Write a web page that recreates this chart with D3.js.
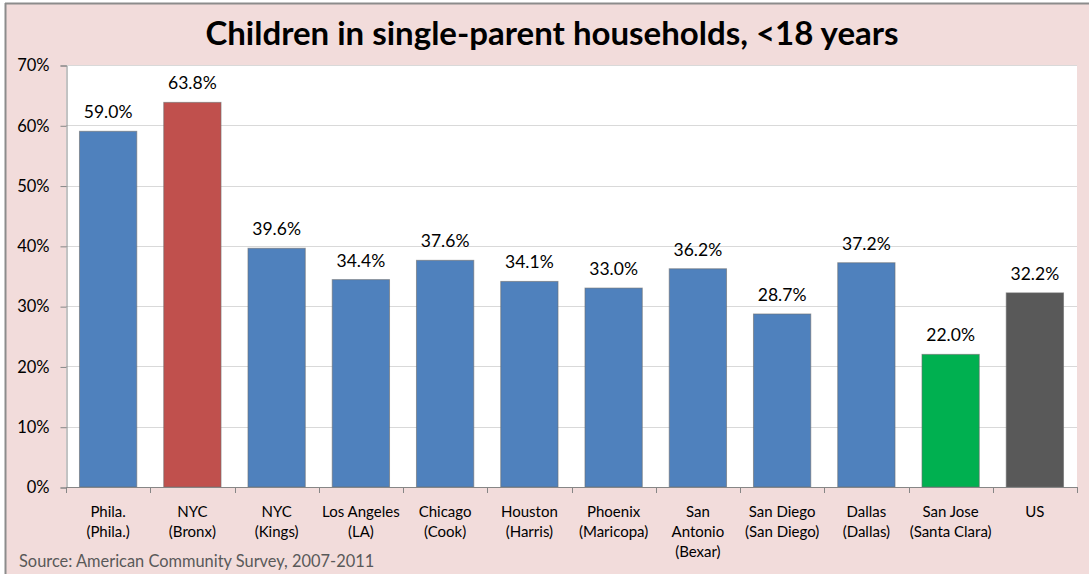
<!DOCTYPE html>
<html>
<head>
<meta charset="utf-8">
<script src="https://cdn.jsdelivr.net/npm/d3@7"></script>
<style>
  html, body { margin: 0; padding: 0; background: #ffffff; }
  svg { display: block; }
</style>
</head>
<body>
<svg id="chart" width="1089" height="574"></svg>
<script>
// Share of children under 18 living in single-parent households
const categories = [
  ["Phila.", "(Phila.)"],
  ["NYC", "(Bronx)"],
  ["NYC", "(Kings)"],
  ["Los Angeles", "(LA)"],
  ["Chicago", "(Cook)"],
  ["Houston", "(Harris)"],
  ["Phoenix", "(Maricopa)"],
  ["San", "Antonio", "(Bexar)"],
  ["San Diego", "(San Diego)"],
  ["Dallas", "(Dallas)"],
  ["San Jose", "(Santa Clara)"],
  ["US"]
];
const values = [59.0, 63.8, 39.6, 34.4, 37.6, 34.1, 33.0, 36.2, 28.7, 37.2, 22.0, 32.2];
const barColors = ["#4f81bd", "#c0504d", "#4f81bd", "#4f81bd", "#4f81bd", "#4f81bd",
                   "#4f81bd", "#4f81bd", "#4f81bd", "#4f81bd", "#00b050", "#595959"];
const yTicks = [0, 10, 20, 30, 40, 50, 60, 70];
const title = "Children in single-parent households, <18 years";
const source = "Source: American Community Survey, 2007-2011";

const W = 1089, H = 574;
const font = "Lato, 'Open Sans', sans-serif";
const svg = d3.select("#chart");

// Frame background and border
svg.append("rect").attr("x", 5).attr("y", 3).attr("width", W - 5).attr("height", H - 3)
  .attr("fill", "#f2dcdb");
svg.append("line").attr("x1", 5).attr("x2", W).attr("y1", 3.5).attr("y2", 3.5)
  .attr("stroke", "#8c8c8c").attr("stroke-width", 2);
svg.append("line").attr("x1", 5.5).attr("x2", 5.5).attr("y1", 3).attr("y2", H)
  .attr("stroke", "#8c8c8c").attr("stroke-width", 2);

const plot = { left: 66, right: 1077, top: 65, bottom: 487 };

const x = d3.scaleBand()
  .domain(d3.range(categories.length))
  .range([plot.left, plot.right])
  .paddingInner(0.32)
  .paddingOuter(0.16);

const y = d3.scaleLinear().domain([0, 70]).range([plot.bottom, plot.top]);

// Plot area
svg.append("rect")
  .attr("x", plot.left).attr("y", plot.top)
  .attr("width", plot.right - plot.left).attr("height", plot.bottom - plot.top)
  .attr("fill", "#ffffff");

// Gridlines
svg.append("g").selectAll("line").data(yTicks.filter(t => t > 0)).join("line")
  .attr("x1", plot.left).attr("x2", plot.right)
  .attr("y1", d => Math.round(y(d)) + 0.5).attr("y2", d => Math.round(y(d)) + 0.5)
  .attr("stroke", "#d9d9d9").attr("stroke-width", 1);

// Y axis
const yAxis = d3.axisLeft(y).tickValues(yTicks).tickFormat(d => d + "%").tickSize(6).tickPadding(11);
const gy = svg.append("g").attr("transform", `translate(${plot.left + 0.5},0.5)`).call(yAxis);
gy.select(".domain").attr("stroke", "#868686");
gy.selectAll(".tick line").attr("stroke", "#868686");
gy.selectAll(".tick text").attr("font-family", font).attr("font-size", 16.5).attr("fill", "#000");

// Bars
svg.append("g").selectAll("rect").data(values).join("rect")
  .attr("x", (d, i) => x(i))
  .attr("y", d => y(d))
  .attr("width", x.bandwidth())
  .attr("height", d => y(0) - y(d))
  .attr("fill", (d, i) => barColors[i])
  .attr("stroke", "#6d6d6d")
  .attr("stroke-opacity", 0.6)
  .attr("stroke-width", 1);

// Value labels
svg.append("g").selectAll("text").data(values).join("text")
  .attr("x", (d, i) => x(i) + x.bandwidth() / 2)
  .attr("y", d => y(d) - 13)
  .attr("text-anchor", "middle")
  .attr("font-family", font).attr("font-size", 17.5).attr("fill", "#000")
  .text(d => d.toFixed(1) + "%");

// X axis line and category boundary ticks
const xAxisG = svg.append("g");
xAxisG.append("line")
  .attr("x1", plot.left).attr("x2", plot.right)
  .attr("y1", plot.bottom + 0.5).attr("y2", plot.bottom + 0.5)
  .attr("stroke", "#868686");
xAxisG.selectAll("line.tk").data(d3.range(categories.length + 1)).join("line")
  .attr("class", "tk")
  .attr("x1", i => Math.round(plot.left + i * (plot.right - plot.left) / categories.length) + 0.5)
  .attr("x2", i => Math.round(plot.left + i * (plot.right - plot.left) / categories.length) + 0.5)
  .attr("y1", plot.bottom).attr("y2", plot.bottom + 6)
  .attr("stroke", "#868686");

// Category labels
const cat = svg.append("g").selectAll("text").data(categories).join("text")
  .attr("x", (d, i) => x(i) + x.bandwidth() / 2)
  .attr("y", 517)
  .attr("text-anchor", "middle")
  .attr("font-family", font).attr("font-size", 15).attr("fill", "#000");
cat.selectAll("tspan").data(d => d).join("tspan")
  .attr("x", function() { return d3.select(this.parentNode).attr("x"); })
  .attr("dy", (d, j) => j === 0 ? 0 : 20)
  .text(d => d);

// Title
svg.append("text")
  .attr("x", 552).attr("y", 45)
  .attr("text-anchor", "middle")
  .attr("font-family", font).attr("font-weight", "bold").attr("font-size", 33)
  .attr("fill", "#000")
  .text(title);

// Source note
svg.append("text")
  .attr("x", 19).attr("y", 567)
  .attr("font-family", font).attr("font-size", 16.4).attr("fill", "#595959")
  .text(source);
</script>
</body>
</html>
